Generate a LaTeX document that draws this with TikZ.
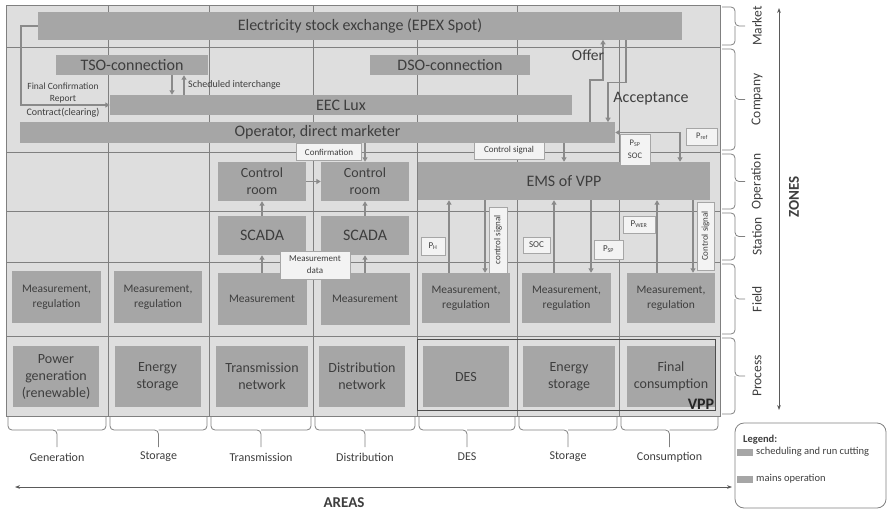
\documentclass[tikz,border=0pt]{standalone}
\usepackage{fontspec}
\setmainfont{Carlito}
\usepackage{tikz}
\usetikzlibrary{arrows.meta}
\definecolor{cellgray}{RGB}{222,222,222}
\definecolor{boxgray}{RGB}{166,166,166}
\definecolor{linegray}{RGB}{128,128,128}
\definecolor{arrgray}{RGB}{138,138,138}
\definecolor{tagfill}{RGB}{243,243,243}
\definecolor{txtgray}{RGB}{62,62,62}
\newcommand{\fsz}[2]{\fontsize{#1}{#2}\selectfont}

\begin{document}
\begin{tikzpicture}[x=1pt,y=-1pt,
  blk/.style={fill=boxgray, text=txtgray, align=center, inner sep=0pt},
  tag/.style={fill=tagfill, draw=boxgray, line width=0.6pt, text=txtgray, align=center, inner sep=0pt, font=\fsz{9}{11}},
  lbl/.style={text=txtgray, align=center, inner sep=0pt},
  arr/.style={draw=arrgray, line width=1.4pt, -{Triangle[length=4.5pt,width=5pt]}},
  arrboth/.style={draw=arrgray, line width=1.4pt, {Triangle[length=4.5pt,width=5pt]}-{Triangle[length=4.5pt,width=5pt]}},
  gridline/.style={draw=linegray, line width=0.7pt},
  bracket/.style={draw=linegray, line width=0.8pt, rounded corners=4pt},
  axis/.style={draw=linegray!70!black, line width=0.9pt, {Stealth[length=5pt]}-{Stealth[length=5pt]}}]
\useasboundingbox (0,0) rectangle (888,514);
\fill[cellgray] (6,5) rectangle (720,416);
\draw[gridline] (6,47) -- (720,47);
\draw[gridline] (6,152) -- (720,152);
\draw[gridline] (6,211) -- (720,211);
\draw[gridline] (6,262) -- (720,262);
\draw[gridline] (6,336) -- (720,336);
\draw[gridline] (108,5) -- (108,416);
\draw[gridline] (209,5) -- (209,416);
\draw[gridline] (313,5) -- (313,416);
\draw[gridline] (417,5) -- (417,416);
\draw[gridline] (517,5) -- (517,416);
\draw[gridline] (619,5) -- (619,416);
\draw[gridline] (6,5) rectangle (720,416);

\node[blk, minimum width=644, minimum height=28, font=\fsz{16}{18}] (epex) at (360,26) {Electricity stock exchange (EPEX Spot)};
\node[blk, minimum width=152, minimum height=20, font=\fsz{16}{18}] (tso) at (132,65) {TSO-connection};
\node[blk, minimum width=160, minimum height=20, font=\fsz{16}{18}] (dso) at (450,65) {DSO-connection};
\node[blk, minimum width=462, minimum height=20, font=\fsz{16}{18}] (eec) at (341,105) {EEC Lux};
\node[blk, minimum width=595, minimum height=21, font=\fsz{16}{18}] (oper) at (317.5,132.5) {Operator, direct marketer};

\node[blk, minimum width=88, minimum height=39, font=\fsz{14}{17}] (crA) at (262,181.5) {Control\\room};
\node[blk, minimum width=88, minimum height=39, font=\fsz{14}{17}] (crB) at (365,181.5) {Control\\room};
\node[blk, minimum width=292, minimum height=38, font=\fsz{16}{18}] (ems) at (564,181) {EMS of VPP};
\node[blk, minimum width=88, minimum height=39, font=\fsz{16}{18}] (scA) at (262,235.5) {SCADA};
\node[blk, minimum width=88, minimum height=39, font=\fsz{16}{18}] (scB) at (365,235.5) {SCADA};

\node[blk, minimum width=89, minimum height=52, font=\fsz{11.5}{15}] (mrA) at (56.5,297) {Measurement,\\regulation};
\node[blk, minimum width=88, minimum height=52, font=\fsz{11.5}{15}] (mrB) at (158,297) {Measurement,\\regulation};
\node[blk, minimum width=89, minimum height=52, font=\fsz{11.5}{15}] (meA) at (262,299) {Measurement};
\node[blk, minimum width=89, minimum height=52, font=\fsz{11.5}{15}] (meB) at (365,299) {Measurement};
\node[blk, minimum width=88, minimum height=50, font=\fsz{11.5}{15}] (mrE) at (466,298) {Measurement,\\regulation};
\node[blk, minimum width=89, minimum height=50, font=\fsz{11.5}{15}] (mrF) at (566.5,298) {Measurement,\\regulation};
\node[blk, minimum width=88, minimum height=50, font=\fsz{11.5}{15}] (mrG) at (671,298) {Measurement,\\regulation};

\node[blk, minimum width=86, minimum height=61, font=\fsz{14}{17}] (pgen) at (56,376.5) {Power\\generation\\(renewable)};
\node[blk, minimum width=86, minimum height=61, font=\fsz{14}{17}] (estA) at (157.5,376.5) {Energy\\storage};
\node[blk, minimum width=92, minimum height=61, font=\fsz{14}{17}] (tnet) at (262,376.5) {Transmission\\network};
\node[blk, minimum width=86, minimum height=61, font=\fsz{14}{17}] (dnet) at (362,376.5) {Distribution\\network};
\node[blk, minimum width=86, minimum height=61, font=\fsz{14}{17}] (des) at (466,376.5) {DES};
\node[blk, minimum width=92, minimum height=61, font=\fsz{14}{17}] (estB) at (569,376.5) {Energy\\storage};
\node[blk, minimum width=88, minimum height=61, font=\fsz{14}{17}] (fcon) at (671,376.5) {Final\\consumption};
\node[draw=linegray!60!black, line width=0.9pt, minimum width=298, minimum height=71, inner sep=0pt] (vpp) at (566,374.5) {};
\node[anchor=south east, inner sep=1pt, text=black!85, font=\bfseries\fsz{16}{18}] (vpplbl) at (vpp.south east) {VPP};

\draw[arr] (epex.west) -- ++(-17,0) |- (eec.west);
\draw[arr] ([xshift=40pt]tso.south) -- ([xshift=40pt]tso.south |- eec.north);
\draw[arr] ([xshift=52pt]tso.south |- eec.north) -- ([xshift=52pt]tso.south);
\draw[arr] ([xshift=272.5pt]oper.north) -- ++(0,-42) -- ++(13,0) -- ++(0,-40);
\draw[arr] ([xshift=266pt]epex.south) -- ++(0,42) -- ++(-18,0) -- ++(0,40);
\draw[arrboth] (oper.east) -| ([xshift=116pt]ems.north);
\draw[arr] (oper.south -| crB.north) -- (crB.north);
\draw[arr] (oper.south -| ems.north) -- (ems.north);
\draw[arr] (crA.east) -- (crB.west);
\draw[arr] (scA.north) -- (crA.south);
\draw[arr] (scB.north) -- (crB.south);
\draw[arr] (meA.north) -- (scA.south);
\draw[arr] (meB.north) -- (scB.south);
\draw[arr] ([xshift=-17pt]mrE.north) -- ([xshift=-17pt]mrE.north |- ems.south);
\draw[arr] ([xshift=19pt]mrE.north |- ems.south) -- ([xshift=19pt]mrE.north);
\draw[arr] ([xshift=-12.5pt]mrF.north) -- ([xshift=-12.5pt]mrF.north |- ems.south);
\draw[arr] ([xshift=24.5pt]mrF.north |- ems.south) -- ([xshift=24.5pt]mrF.north);
\draw[arr] ([xshift=-14pt]mrG.north) -- ([xshift=-14pt]mrG.north |- ems.south);
\draw[arr] ([xshift=22pt]mrG.north |- ems.south) -- ([xshift=22pt]mrG.north);

\node[lbl, font=\fsz{15.5}{18}] (offer) at (588,55) {Offer};
\node[lbl, font=\fsz{16}{18}] (accept) at (651,99) {Acceptance};
\node[lbl, font=\fsz{9.5}{12}] (fcrep) at (63,92.5) {Final Confirmation\\Report};
\node[lbl, font=\fsz{10}{12}] (contract) at (63,113) {Contract(clearing)};
\node[lbl, anchor=west, font=\fsz{10}{12}] (schint) at (188,85) {Scheduled interchange};

\node[tag, minimum width=65, minimum height=17] (conf) at (329,152) {Confirmation};
\node[tag, minimum width=70, minimum height=17] (csig) at (509,150.5) {Control signal};
\node[tag, minimum width=70, minimum height=28, font=\fsz{9}{12}] (mdata) at (315,265) {Measurement\\data};
\node[tag, minimum width=30, minimum height=31, font=\fsz{8.5}{13}] (pspsoc) at (635,149.5) {P\textsubscript{SP}\\SOC};
\node[tag, minimum width=31, minimum height=17, font=\fsz{8.5}{10}] (pref) at (702,136.5) {P\textsubscript{ref}};
\node[tag, minimum width=24, minimum height=18] (ph) at (433,246) {P\textsubscript{H}};
\node[tag, rotate=90, minimum width=66, minimum height=18] (csigE) at (498,240) {control signal};
\node[tag, minimum width=27, minimum height=16] (soc) at (536.5,245) {SOC};
\node[tag, minimum width=29, minimum height=19] (psp) at (608.5,249.5) {P\textsubscript{SP}};
\node[tag, minimum width=32, minimum height=17] (pwer) at (639,224.5) {P\textsubscript{WER}};
\node[tag, rotate=90, minimum width=68, minimum height=17] (csigG) at (705.5,236) {Control signal};

\draw[bracket] (722,7) -| (735,26) -- (745,26);
\draw[bracket] (722,45) -| (735,26);
\draw[bracket] (722,49) -| (735,99.5) -- (745,99.5);
\draw[bracket] (722,150) -| (735,99.5);
\draw[bracket] (722,154) -| (735,181.5) -- (745,181.5);
\draw[bracket] (722,209) -| (735,181.5);
\draw[bracket] (722,213) -| (735,236.5) -- (745,236.5);
\draw[bracket] (722,260) -| (735,236.5);
\draw[bracket] (722,264) -| (735,299) -- (745,299);
\draw[bracket] (722,334) -| (735,299);
\draw[bracket] (722,338) -| (735,376) -- (745,376);
\draw[bracket] (722,414) -| (735,376);
\node[lbl, rotate=90, font=\fsz{13.5}{16}] (zmarket) at (757,26) {Market};
\node[lbl, rotate=90, font=\fsz{13.5}{16}] (zcompany) at (757,99.5) {Company};
\node[lbl, rotate=90, font=\fsz{13.5}{16}] (zoperation) at (757,181.5) {Operation};
\node[lbl, rotate=90, font=\fsz{13.5}{16}] (zstation) at (757,236.5) {Station};
\node[lbl, rotate=90, font=\fsz{13.5}{16}] (zfield) at (757,299) {Field};
\node[lbl, rotate=90, font=\fsz{13.5}{16}] (zprocess) at (757,376) {Process};

\draw[bracket] (8,417) |- (57,430) -- (57,447);
\draw[bracket] (106,417) |- (57,430);
\draw[bracket] (110,417) |- (158.5,430) -- (158.5,447);
\draw[bracket] (207,417) |- (158.5,430);
\draw[bracket] (211,417) |- (261,430) -- (261,447);
\draw[bracket] (311,417) |- (261,430);
\draw[bracket] (315,417) |- (365,430) -- (365,447);
\draw[bracket] (415,417) |- (365,430);
\draw[bracket] (419,417) |- (467,430) -- (467,447);
\draw[bracket] (515,417) |- (467,430);
\draw[bracket] (519,417) |- (568,430) -- (568,447);
\draw[bracket] (617,417) |- (568,430);
\draw[bracket] (621,417) |- (669.5,430) -- (669.5,447);
\draw[bracket] (718,417) |- (669.5,430);
\node[lbl, font=\fsz{12}{14}] (agen) at (57,457) {Generation};
\node[lbl, font=\fsz{12}{14}] (asto) at (158.5,457) {Storage};
\node[lbl, font=\fsz{12}{14}] (atra) at (261,457) {Transmission};
\node[lbl, font=\fsz{12}{14}] (adis) at (365,457) {Distribution};
\node[lbl, font=\fsz{12}{14}] (ades) at (467,457) {DES};
\node[lbl, font=\fsz{12}{14}] (astoB) at (568,457) {Storage};
\node[lbl, font=\fsz{12}{14}] (acon) at (669.5,457) {Consumption};

\coordinate (ztop) at (779,8);
\coordinate (zbot) at (779,410);
\draw[axis] (ztop) -- (zbot);
\node[lbl, rotate=90, font=\bfseries\fsz{15}{18}] (zones) at (794,197) {ZONES};
\coordinate (aleft) at (15,487);
\coordinate (aright) at (732,487);
\draw[axis] (aleft) -- (aright);
\node[lbl, font=\bfseries\fsz{15}{18}] (areas) at (344,503) {AREAS};

\node[draw=linegray, line width=0.8pt, rounded corners=9pt, minimum width=151, minimum height=85, inner sep=0pt] (legend) at (810.5,465.5) {};
\node[lbl, anchor=west, font=\bfseries\fsz{10.5}{12}] (leghead) at (743,440) {Legend:};
\node[fill=boxgray, minimum width=16, minimum height=7, inner sep=0pt] (swA) at (745,452.5) {};
\node[lbl, anchor=west, font=\fsz{10.5}{12}] (legA) at (756,452) {scheduling and run cutting};
\node[fill=boxgray, minimum width=16, minimum height=7, inner sep=0pt] (swB) at (745,479.5) {};
\node[lbl, anchor=west, font=\fsz{10.5}{12}] (legB) at (756,478.5) {mains operation};
\end{tikzpicture}
\end{document}
